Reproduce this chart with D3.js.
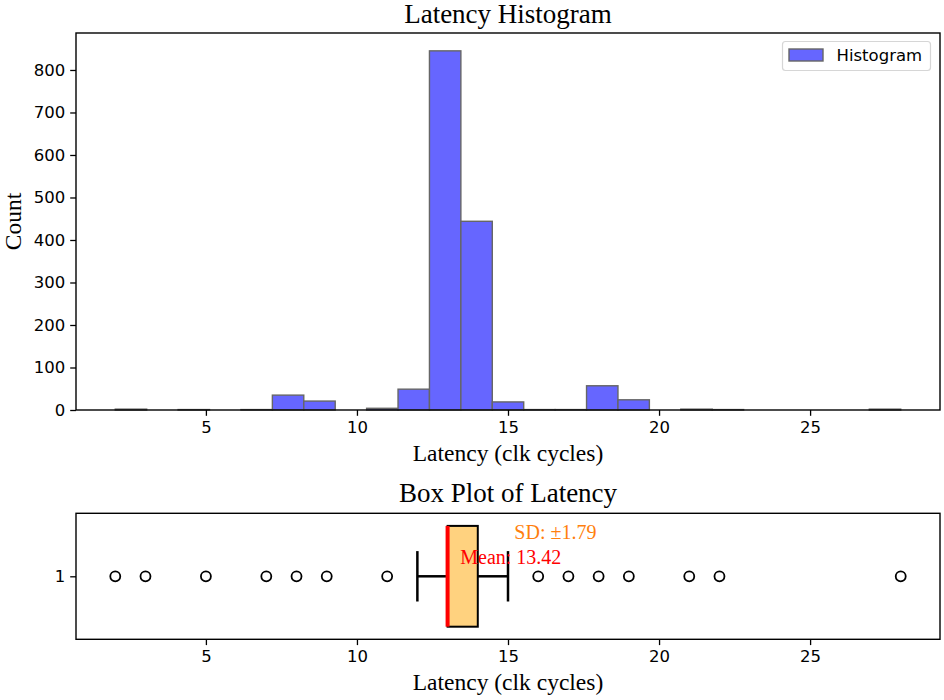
<!DOCTYPE html>
<html>
<head>
<meta charset="utf-8">
<script src="https://cdn.jsdelivr.net/npm/d3@7"></script>
<style>
  body { margin: 0; background: #fff; }
  .tick text { font-family: "DejaVu Sans", sans-serif; font-size: 16.5px; fill: #000; }
  .tick line { stroke-width: 1.3px; }
  .serif { font-family: "Liberation Serif", "Times New Roman", serif; }
</style>
</head>
<body>
<div id="chart"></div>
<script>
// Histogram bins (25 bins between 2 and 28 clk cycles)
const binEdges = [2, 3.04, 4.08, 5.12, 6.16, 7.2, 8.24, 9.28, 10.32, 11.36, 12.4, 13.44, 14.48,
  15.52, 16.56, 17.6, 18.64, 19.68, 20.72, 21.76, 22.8, 23.84, 24.88, 25.92, 26.96, 28];
const binCounts = [2, 0, 1, 0, 1, 35, 21, 0, 4, 49, 845, 444, 19, 1, 1, 57, 24, 0, 2, 1, 0, 0, 0, 0, 2];

// Box plot stats
const boxStats = { whiskerLow: 12, q1: 13, median: 13, q3: 14, whiskerHigh: 15 };
const outliers = [2, 3, 5, 7, 8, 9, 11, 16, 17, 18, 19, 21, 22, 28];
const meanValue = 13.42;
const sdValue = 1.79;

const xTicks = [5, 10, 15, 20, 25];
const yTicks = [0, 100, 200, 300, 400, 500, 600, 700, 800];

const width = 944, height = 700;
const left = 76, right = 940;

const svg = d3.select("#chart").append("svg")
  .attr("width", width)
  .attr("height", height);

// shared x scale
const x = d3.scaleLinear().domain([0.7, 29.3]).range([left, right]);

// ---------- histogram ----------
const histTop = 33, histBottom = 410;
const y = d3.scaleLinear().domain([0, 887]).range([histBottom, histTop]);

const bins = binCounts.map((c, i) => ({ x0: binEdges[i], x1: binEdges[i + 1], count: c }));

svg.append("g")
  .selectAll("rect")
  .data(bins)
  .enter().append("rect")
  .attr("x", d => x(d.x0))
  .attr("width", d => x(d.x1) - x(d.x0))
  .attr("y", d => y(d.count))
  .attr("height", d => y(0) - y(d.count))
  .attr("fill", "#6666ff")
  .attr("stroke", "#666666")
  .attr("stroke-width", 1.4);

svg.append("g")
  .attr("transform", "translate(0," + histBottom + ")")
  .call(d3.axisBottom(x).tickValues(xTicks).tickSize(5.8).tickPadding(5))
  .call(g => g.select(".domain").remove());

svg.append("g")
  .attr("transform", "translate(" + left + ",0)")
  .call(d3.axisLeft(y).tickValues(yTicks).tickSize(5.8).tickPadding(5))
  .call(g => g.select(".domain").remove());

svg.append("rect")
  .attr("x", left).attr("y", histTop)
  .attr("width", right - left).attr("height", histBottom - histTop)
  .attr("fill", "none").attr("stroke", "#000").attr("stroke-width", 1.4);

svg.append("text").attr("class", "serif")
  .attr("x", (left + right) / 2).attr("y", 23)
  .attr("text-anchor", "middle").style("font-size", "27px")
  .text("Latency Histogram");

svg.append("text").attr("class", "serif")
  .attr("x", (left + right) / 2).attr("y", 461)
  .attr("text-anchor", "middle").style("font-size", "23.5px")
  .text("Latency (clk cycles)");

svg.append("text").attr("class", "serif")
  .attr("transform", "translate(21," + (histTop + histBottom) / 2 + ") rotate(-90)")
  .attr("text-anchor", "middle").style("font-size", "23.5px")
  .text("Count");

// legend
const legend = svg.append("g");
legend.append("rect")
  .attr("x", 782.5).attr("y", 41.5).attr("width", 148).attr("height", 29)
  .attr("rx", 3).attr("fill", "#fff").attr("stroke", "#d6d6d6").attr("stroke-width", 1.2);
legend.append("rect")
  .attr("x", 789).attr("y", 49).attr("width", 34).attr("height", 12)
  .attr("fill", "#6666ff").attr("stroke", "#666666").attr("stroke-width", 1.4);
legend.append("text")
  .attr("x", 836.5).attr("y", 61)
  .style("font-family", "'DejaVu Sans', sans-serif").style("font-size", "16.5px")
  .text("Histogram");

// ---------- box plot ----------
const boxTop = 513.3, boxBottom = 639.3;
const yb = d3.scaleLinear().domain([0.5, 1.5]).range([boxBottom, boxTop]);
const cy = yb(1);

const box = svg.append("g");

// whiskers
box.selectAll("line.whisker")
  .data([[boxStats.whiskerLow, boxStats.q1], [boxStats.q3, boxStats.whiskerHigh]])
  .enter().append("line")
  .attr("x1", d => x(d[0])).attr("x2", d => x(d[1]))
  .attr("y1", cy).attr("y2", cy)
  .attr("stroke", "#000").attr("stroke-width", 2.5);

// caps
box.selectAll("line.cap")
  .data([boxStats.whiskerLow, boxStats.whiskerHigh])
  .enter().append("line")
  .attr("x1", d => x(d)).attr("x2", d => x(d))
  .attr("y1", yb(1.2)).attr("y2", yb(0.8))
  .attr("stroke", "#000").attr("stroke-width", 2.5);

// box
box.append("rect")
  .attr("x", x(boxStats.q1)).attr("width", x(boxStats.q3) - x(boxStats.q1))
  .attr("y", yb(1.4)).attr("height", yb(0.6) - yb(1.4))
  .attr("fill", "#ffd27f").attr("stroke", "#000").attr("stroke-width", 2);

// median
box.append("line")
  .attr("x1", x(boxStats.median)).attr("x2", x(boxStats.median))
  .attr("y1", yb(1.4)).attr("y2", yb(0.6))
  .attr("stroke", "#ff0000").attr("stroke-width", 4);

// outliers
box.selectAll("circle")
  .data(outliers)
  .enter().append("circle")
  .attr("cx", d => x(d)).attr("cy", cy).attr("r", 5)
  .attr("fill", "none").attr("stroke", "#000").attr("stroke-width", 1.8);

svg.append("text").attr("class", "serif")
  .attr("x", x(meanValue)).attr("y", yb(1.1))
  .attr("fill", "#ff0000").style("font-size", "20px")
  .text("Mean: " + meanValue.toFixed(2));

svg.append("text").attr("class", "serif")
  .attr("x", x(meanValue + sdValue)).attr("y", yb(1.3))
  .attr("fill", "#ff7f0e").style("font-size", "20px")
  .text("SD: \u00b1" + sdValue.toFixed(2));

svg.append("g")
  .attr("transform", "translate(0," + boxBottom + ")")
  .call(d3.axisBottom(x).tickValues(xTicks).tickSize(5.8).tickPadding(5))
  .call(g => g.select(".domain").remove());

svg.append("g")
  .attr("transform", "translate(" + left + ",0)")
  .call(d3.axisLeft(yb).tickValues([1]).tickFormat(d3.format("d")).tickSize(5.8).tickPadding(5))
  .call(g => g.select(".domain").remove());

svg.append("rect")
  .attr("x", left).attr("y", boxTop)
  .attr("width", right - left).attr("height", boxBottom - boxTop)
  .attr("fill", "none").attr("stroke", "#000").attr("stroke-width", 1.4);

svg.append("text").attr("class", "serif")
  .attr("x", (left + right) / 2).attr("y", 501.5)
  .attr("text-anchor", "middle").style("font-size", "27px")
  .text("Box Plot of Latency");

svg.append("text").attr("class", "serif")
  .attr("x", (left + right) / 2).attr("y", 690)
  .attr("text-anchor", "middle").style("font-size", "23.5px")
  .text("Latency (clk cycles)");
</script>
</body>
</html>
